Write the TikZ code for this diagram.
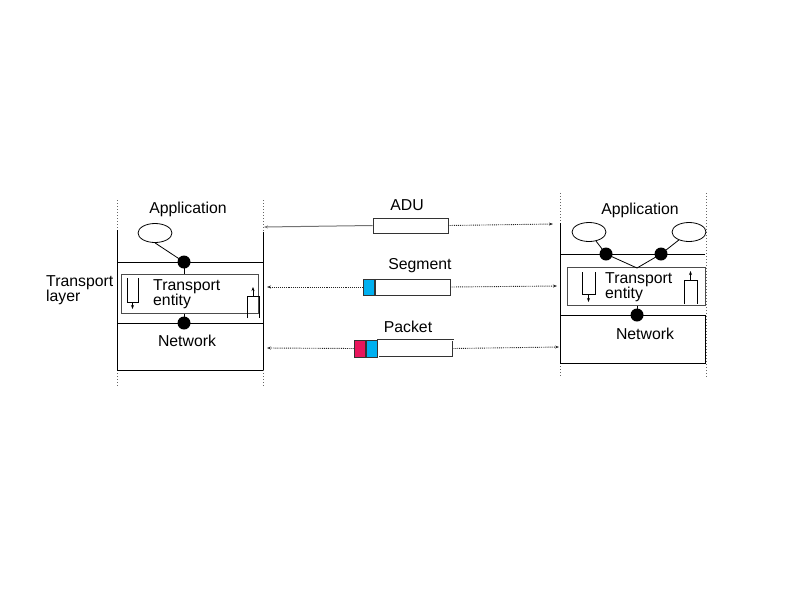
\documentclass[tikz,border=0pt]{standalone}
\usepackage{fontspec}
\setmainfont{Liberation Sans}
\usetikzlibrary{arrows.meta,shapes,positioning}
\definecolor{pktred}{RGB}{232,22,92}
\definecolor{pktblue}{RGB}{0,176,240}
\tikzset{
  %Define standard arrow tip
    >={Stealth[length=4pt,width=3pt]},
  %define style for texts
  lbl/.style={
    font=\fontsize{15.8}{15.8}\selectfont,
    inner sep=0pt},
  %define style for host frames
  hostline/.style={
    draw=black, line width=1pt},
  hostdots/.style={
    draw=black!60, line width=1pt, dotted},
  entitybox/.style={
    draw=black!70, line width=1pt},
  appsock/.style={
    ellipse,
    draw=black, line width=0.8pt,
    minimum width=34pt, minimum height=19pt},
  sap/.style={
    circle, fill=black,
    minimum size=13pt, inner sep=0pt},
  %define style for data units
  pdu/.style={
    draw=black!80, line width=1pt},
  %define style for arrows
  msgarrow/.style={
    ->, draw=black!85, line width=0.9pt, densely dotted},
  flow/.style={
    draw=black, line width=0.8pt},
  flowarrow/.style={
    ->, draw=black, line width=0.8pt}
}
\begin{document}
\begin{tikzpicture}[x=1pt, y=-1pt]
\useasboundingbox (0,0) rectangle (793,595);

%left host
\draw[hostdots] (117,200) -- (117,230);
\draw[hostline] (117,230) -- (117,370);
\draw[hostdots] (117,370) -- (117,387);
\draw[hostdots] (263,200) -- (263,232);
\draw[hostline] (263,232) -- (263,370);
\draw[hostdots] (263,370) -- (263,387);
\draw[hostline] (117,262) -- (263,262);
\draw[hostline] (117,323) -- (263,323);
\draw[hostline] (117,370) -- (263,370);
\node[entitybox, minimum width=137pt, minimum height=39pt, inner sep=0pt] (entL) at (189.5,293.5) {};

\node[lbl] (appL) at (188,209) {Application};
\node[appsock] (sockL) at (155,233) {};
\node[sap] (sapL) at (184,262) {};
\node[sap] (netsapL) at (184,323) {};
\node[lbl] (netL) at (187,341) {Network};
\node[lbl, align=left, anchor=west] (entLtxt) at (153,294.5) {Transport\\[-0.5pt]entity};
\node[lbl, align=left, anchor=west] (layer) at (46,290) {Transport\\[-0.5pt]layer};

\draw[flow] (sockL.south) -- (sapL.center);
\draw[flow] (sapL.center) -- (entL.north -| sapL);
\draw[flow] (entL.south -| netsapL) -- (netsapL.center);

\draw[flow] (127,278) |- (138,302) -- (138,278);
\draw[flowarrow] (132.5,302) -- ++(0,7);
\draw[flow] (247,318) |- (259,296) -- (259,318);
\draw[flowarrow] (253,296) -- ++(0,-9);

%right host
\draw[hostdots] (560,193) -- (560,223);
\draw[hostline] (560,223) -- (560,363);
\draw[hostdots] (560,363) -- (560,378);
\draw[hostdots] (706,193) -- (706,378);
\draw[hostline] (560,254) -- (705,254);
\draw[hostline] (560,315) rectangle (705,363);
\node[entitybox, minimum width=138pt, minimum height=38pt, inner sep=0pt] (entR) at (636,286) {};

\node[lbl] (appR) at (640,210) {Application};
\node[appsock] (sockRa) at (589,232) {};
\node[appsock] (sockRb) at (689,232) {};
\node[sap] (sapRa) at (606,254) {};
\node[sap] (sapRb) at (661,254) {};
\node[sap] (netsapR) at (637,315) {};
\coordinate (mux) at (637,268);
\node[lbl] (netR) at (645,334) {Network};
\node[lbl, align=left, anchor=west] (entRtxt) at (605,287) {Transport\\[-0.5pt]entity};

\draw[flow] (sockRa) -- (sapRa.center) -- (mux) -- (sapRb.center) -- (sockRb);
\draw[flow] (entR.south -| netsapR) -- (netsapR.center);

\draw[flow] (582,272) |- (595,294) -- (595,272);
\draw[flowarrow] (588.5,294) -- ++(0,8);
\draw[flow] (684,304) |- (697,280) -- (697,304);
\draw[flowarrow] (690.5,280) -- ++(0,-9);

%data units
\node[lbl] (adu) at (407,205) {ADU};
\node[pdu, minimum width=75pt, minimum height=15pt, inner sep=0pt] (aduBox) at (410.5,225.5) {};

\node[lbl] (seg) at (420,266) {Segment};
\node[pdu, fill=pktblue, minimum width=11pt, minimum height=16pt, inner sep=0pt] (segHdr) at (368.5,287) {};
\node[pdu, minimum width=75pt, minimum height=16pt, inner sep=0pt, right=0pt of segHdr] (segBox) {};

\node[lbl] (pkt) at (408,327) {Packet};
\node[pdu, fill=pktred, minimum width=11pt, minimum height=17pt, inner sep=0pt] (pktNet) at (359.5,348.5) {};
\node[pdu, fill=pktblue, minimum width=11pt, minimum height=17pt, inner sep=0pt, right=0pt of pktNet] (pktHdr) {};
\node[pdu, double, double distance=0.6pt, minimum width=75pt, minimum height=17pt, inner sep=0pt, right=0pt of pktHdr] (pktBox) {};

%arrows
\coordinate (aduL) at (264,227);
\coordinate (aduR) at (553,224);
\coordinate (segL) at (267,287);
\coordinate (segR) at (557,286);
\coordinate (pktL) at (267,348);
\coordinate (pktR) at (559,347);
\draw[->, draw=black!55, line width=1pt] (aduBox.west) -- (aduL);
\draw[msgarrow] (aduBox.east) -- (aduR);
\draw[msgarrow] (segHdr.west) -- (segL);
\draw[msgarrow] (segBox.east) -- (segR);
\draw[msgarrow] (pktNet.west) -- (pktL);
\draw[msgarrow] (pktBox.east) -- (pktR);

\end{tikzpicture}
\end{document}
